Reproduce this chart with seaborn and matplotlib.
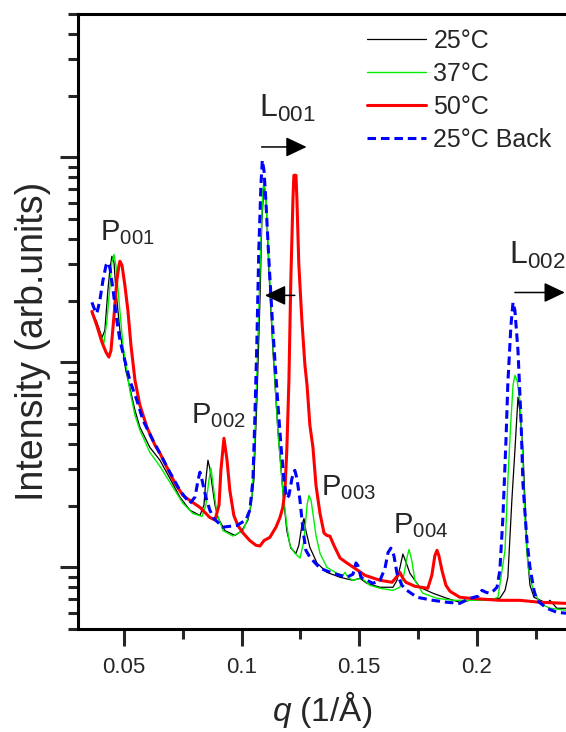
import matplotlib
matplotlib.use("Agg")
import matplotlib.pyplot as plt
import seaborn as sns
import pandas as pd
from matplotlib.ticker import MultipleLocator, FixedLocator, LogLocator, NullFormatter, FuncFormatter

# ---------------- data ----------------
q_25 = [0.0364, 0.0385, 0.0407, 0.0419, 0.0432, 0.0441, 0.0449, 0.0458, 0.0466, 0.0483, 0.0508, 0.0525, 0.0547, 0.0568, 0.0610, 0.0653, 0.0695, 0.0738, 0.0780, 0.0823, 0.0840, 0.0848, 0.0857, 0.0865, 0.0878, 0.0887, 0.0899, 0.0929, 0.0972, 0.1001, 0.1027, 0.1040, 0.1052, 0.1065, 0.1078, 0.1086, 0.1095, 0.1103, 0.1116, 0.1133, 0.1154, 0.1175, 0.1192, 0.1209, 0.1231, 0.1243, 0.1256, 0.1265, 0.1273, 0.1290, 0.1320, 0.1362, 0.1418, 0.1473, 0.1503, 0.1532, 0.1588, 0.1643, 0.1660, 0.1672, 0.1685, 0.1698, 0.1715, 0.1757, 0.1813, 0.1872, 0.1927, 0.1970, 0.2097, 0.2119, 0.2131, 0.2148, 0.2161, 0.2174, 0.2182, 0.2195, 0.2212, 0.2225, 0.2242, 0.2297, 0.2310, 0.2339, 0.2378]
i_25 = [17.7, 15.7, 13.2, 14.3, 22.5, 28.7, 32.9, 30.7, 22.5, 14.3, 9.14, 7.55, 5.83, 4.82, 3.85, 3.33, 2.72, 2.20, 1.90, 1.79, 2.01, 2.66, 3.33, 3.04, 2.37, 2.01, 1.75, 1.51, 1.43, 1.51, 1.70, 2.01, 2.66, 6.53, 20.1, 49.3, 73.0, 65.3, 28.1, 11.4, 4.66, 2.37, 1.51, 1.24, 1.17, 1.28, 1.60, 1.73, 1.51, 1.25, 1.05, 0.945, 0.894, 0.864, 0.884, 0.835, 0.799, 0.799, 0.864, 0.989, 1.16, 1.06, 0.935, 0.799, 0.747, 0.706, 0.675, 0.690, 0.706, 0.772, 0.894, 2.12, 3.72, 6.75, 5.83, 3.72, 1.21, 0.817, 0.714, 0.667, 0.690, 0.631, 0.631]

q_37 = [0.0364, 0.0385, 0.0407, 0.0415, 0.0428, 0.0441, 0.0449, 0.0458, 0.0466, 0.0479, 0.0496, 0.0525, 0.0547, 0.0568, 0.0610, 0.0653, 0.0695, 0.0751, 0.0793, 0.0832, 0.0848, 0.0861, 0.0870, 0.0882, 0.0895, 0.0921, 0.0963, 0.1006, 0.1031, 0.1044, 0.1056, 0.1069, 0.1082, 0.1090, 0.1095, 0.1103, 0.1116, 0.1133, 0.1154, 0.1175, 0.1192, 0.1205, 0.1226, 0.1248, 0.1265, 0.1278, 0.1286, 0.1295, 0.1303, 0.1316, 0.1333, 0.1362, 0.1405, 0.1430, 0.1439, 0.1452, 0.1473, 0.1511, 0.1545, 0.1588, 0.1643, 0.1672, 0.1689, 0.1702, 0.1711, 0.1723, 0.1736, 0.1770, 0.1830, 0.1898, 0.1970, 0.2055, 0.2089, 0.2119, 0.2131, 0.2144, 0.2153, 0.2161, 0.2170, 0.2182, 0.2195, 0.2203, 0.2216, 0.2233, 0.2267, 0.2310, 0.2378]
i_37 = [17.7, 15.1, 13.1, 12.4, 16.0, 23.8, 30.7, 33.6, 29.7, 20.1, 12.1, 7.30, 5.51, 4.66, 3.64, 3.11, 2.60, 2.05, 1.83, 1.77, 2.01, 2.66, 3.04, 2.37, 1.83, 1.51, 1.42, 1.51, 1.79, 2.24, 4.17, 12.8, 39.4, 69.0, 75.5, 65.3, 31.4, 12.1, 4.66, 2.37, 1.60, 1.28, 1.17, 1.11, 1.35, 2.01, 2.24, 2.12, 1.83, 1.43, 1.17, 1.00, 0.935, 0.914, 0.945, 0.894, 0.864, 0.884, 0.817, 0.790, 0.772, 0.799, 0.914, 1.11, 1.22, 1.08, 0.864, 0.747, 0.706, 0.690, 0.690, 0.690, 0.714, 1.21, 2.66, 5.21, 7.72, 8.64, 8.17, 6.53, 3.33, 1.75, 1.02, 0.817, 0.667, 0.631, 0.617]

q_50 = [0.0364, 0.0385, 0.0407, 0.0424, 0.0436, 0.0445, 0.0458, 0.0470, 0.0479, 0.0483, 0.0492, 0.0504, 0.0517, 0.0530, 0.0547, 0.0568, 0.0598, 0.0632, 0.0653, 0.0683, 0.0717, 0.0751, 0.0780, 0.0823, 0.0865, 0.0887, 0.0904, 0.0912, 0.0925, 0.0938, 0.0950, 0.0967, 0.0984, 0.1006, 0.1035, 0.1061, 0.1078, 0.1095, 0.1120, 0.1146, 0.1163, 0.1175, 0.1184, 0.1192, 0.1201, 0.1209, 0.1218, 0.1222, 0.1231, 0.1235, 0.1243, 0.1256, 0.1269, 0.1278, 0.1290, 0.1303, 0.1316, 0.1333, 0.1350, 0.1362, 0.1375, 0.1392, 0.1418, 0.1447, 0.1481, 0.1524, 0.1588, 0.1639, 0.1664, 0.1672, 0.1685, 0.1698, 0.1736, 0.1791, 0.1808, 0.1821, 0.1830, 0.1838, 0.1851, 0.1868, 0.1885, 0.1927, 0.1970, 0.2097, 0.2182, 0.2267, 0.2378]
i_50 = [17.7, 15.1, 12.5, 11.2, 10.6, 11.4, 16.9, 25.1, 29.7, 31.1, 29.7, 23.8, 17.9, 12.1, 8.17, 6.17, 4.82, 3.94, 3.60, 3.07, 2.57, 2.24, 2.12, 1.96, 1.75, 1.70, 2.01, 2.97, 4.26, 3.33, 2.37, 1.79, 1.60, 1.47, 1.35, 1.28, 1.27, 1.35, 1.40, 1.57, 1.75, 1.96, 2.37, 3.72, 8.17, 25.1, 61.7, 81.7, 81.7, 61.7, 30.1, 16.0, 9.66, 7.72, 4.93, 3.85, 2.51, 1.83, 1.47, 1.43, 1.42, 1.28, 1.11, 1.05, 0.989, 0.914, 0.864, 0.845, 0.914, 0.945, 0.884, 0.845, 0.808, 0.790, 0.914, 1.14, 1.21, 1.14, 0.967, 0.817, 0.764, 0.714, 0.706, 0.690, 0.690, 0.675, 0.667]

q_back = [0.0364, 0.0377, 0.0385, 0.0398, 0.0411, 0.0424, 0.0432, 0.0441, 0.0454, 0.0470, 0.0483, 0.0504, 0.0525, 0.0555, 0.0581, 0.0623, 0.0653, 0.0695, 0.0738, 0.0780, 0.0802, 0.0815, 0.0823, 0.0832, 0.0848, 0.0865, 0.0882, 0.0921, 0.0980, 0.1018, 0.1035, 0.1048, 0.1056, 0.1065, 0.1073, 0.1082, 0.1088, 0.1095, 0.1103, 0.1116, 0.1133, 0.1150, 0.1167, 0.1180, 0.1192, 0.1201, 0.1214, 0.1226, 0.1235, 0.1248, 0.1261, 0.1273, 0.1290, 0.1333, 0.1388, 0.1447, 0.1473, 0.1486, 0.1494, 0.1507, 0.1558, 0.1588, 0.1609, 0.1622, 0.1634, 0.1647, 0.1660, 0.1681, 0.1702, 0.1745, 0.1813, 0.1872, 0.1927, 0.1970, 0.2004, 0.2021, 0.2038, 0.2055, 0.2072, 0.2085, 0.2097, 0.2110, 0.2123, 0.2131, 0.2144, 0.2153, 0.2161, 0.2174, 0.2187, 0.2195, 0.2212, 0.2225, 0.2242, 0.2254, 0.2297, 0.2339, 0.2378]
i_back = [19.6, 17.9, 17.3, 20.1, 25.1, 29.7, 30.7, 28.7, 22.5, 16.0, 12.8, 10.2, 8.17, 6.53, 5.21, 4.17, 3.60, 2.91, 2.37, 2.05, 2.20, 2.66, 2.91, 2.66, 2.20, 1.90, 1.73, 1.57, 1.60, 1.70, 1.90, 2.66, 5.21, 12.8, 35.2, 73.0, 96.7, 86.4, 61.7, 31.4, 14.3, 7.30, 3.94, 2.66, 2.17, 2.24, 2.72, 2.97, 2.72, 2.12, 1.51, 1.21, 1.12, 0.989, 0.935, 0.894, 0.925, 1.05, 1.02, 0.894, 0.835, 0.864, 0.989, 1.18, 1.24, 1.14, 0.935, 0.817, 0.772, 0.714, 0.690, 0.675, 0.667, 0.706, 0.722, 0.772, 0.755, 0.747, 0.772, 0.799, 0.967, 1.75, 4.17, 7.90, 15.1, 19.6, 17.9, 11.4, 5.21, 2.57, 1.35, 1.00, 0.772, 0.690, 0.631, 0.603, 0.597]

series_labels = ["25°C", "37°C", "50°C", "25°C Back"]
x_ticks = [0.05, 0.1, 0.15, 0.2]

# ---------------- style ----------------
sns.set_style("ticks")
plt.rcParams["font.family"] = ["Liberation Sans", "DejaVu Sans"]
plt.rcParams["mathtext.fontset"] = "custom"
plt.rcParams["mathtext.rm"] = "Liberation Sans"
plt.rcParams["mathtext.it"] = "Liberation Sans:italic"
plt.rcParams["mathtext.bf"] = "Liberation Sans:bold"

fig = plt.figure(figsize=(5.66, 7.32), dpi=100)
ax = fig.add_axes([78 / 566, 103 / 732, 1 - 78 / 566, 615 / 732])

styles = [
    dict(color="#000000", lw=0.9, ls="-"),
    dict(color="#00ee00", lw=1.0, ls="-"),
    dict(color="#ff0000", lw=2.2, ls="-"),
    dict(color="#0000ff", lw=2.2, ls=(0, (2.8, 1.6))),
]
data = [(q_25, i_25), (q_37, i_37), (q_50, i_50), (q_back, i_back)]
for (qq, ii), lab, st in zip(data, series_labels, styles):
    df = pd.DataFrame({"q": qq, "I": ii})
    sns.lineplot(data=df, x="q", y="I", ax=ax, estimator=None, sort=False,
                 color=st["color"], linewidth=st["lw"], linestyle=st["ls"], label=lab)

ax.set_yscale("log")
ax.set_xlim(0.0305, 0.2378)
ax.set_ylim(0.5, 500)

ax.xaxis.set_major_locator(FixedLocator(x_ticks))
ax.xaxis.set_major_formatter(FuncFormatter(lambda v, p: f"{v:g}"))
ax.xaxis.set_minor_locator(MultipleLocator(0.025))
ax.yaxis.set_major_locator(LogLocator(base=10, numticks=10))
ax.yaxis.set_minor_locator(LogLocator(base=10, subs=(2, 3, 4, 5, 6, 7, 8, 9), numticks=20))
ax.yaxis.set_major_formatter(NullFormatter())
ax.yaxis.set_minor_formatter(NullFormatter())

for s in ["left", "bottom", "top"]:
    ax.spines[s].set_linewidth(2.2)
    ax.spines[s].set_color("black")
ax.spines["right"].set_visible(False)

ax.tick_params(axis="x", which="major", direction="out", length=12, width=2.2, labelsize=16, pad=8, top=False)
ax.tick_params(axis="x", which="minor", direction="out", length=7, width=2.2, top=False)
ax.tick_params(axis="y", which="major", direction="out", length=13, width=2.2, right=False)
ax.tick_params(axis="y", which="minor", direction="out", length=7.5, width=2.2, right=False)

ax.set_xlabel(r"$\mathit{q}$ (1/Å)", fontsize=24, labelpad=8)
ax.set_ylabel("Intensity (arb.units)", fontsize=27)
ax.yaxis.set_label_coords(-0.055, 0.468)

leg = ax.legend(loc="upper left", bbox_to_anchor=(367 / 566, 1 - 29 / 732), bbox_transform=fig.transFigure,
                frameon=False, fontsize=18, handlelength=2.35, handletextpad=0.3,
                labelspacing=0.36, borderpad=0, borderaxespad=0)

# annotations
fs = 21
ax.text(0.0400, 39.4, r"P$_{\mathrm{001}}$", fontsize=fs)
ax.text(0.0785, 5.04, r"P$_{\mathrm{002}}$", fontsize=fs)
ax.text(0.1338, 2.24, r"P$_{\mathrm{003}}$", fontsize=fs)
ax.text(0.1642, 1.47, r"P$_{\mathrm{004}}$", fontsize=fs)
ax.text(0.1072, 157, r"L$_{\mathrm{001}}$", fontsize=fs + 2)
ax.text(0.2135, 30.3, r"L$_{\mathrm{002}}$", fontsize=fs + 2)

arw = dict(arrowstyle="-|>,head_length=0.8,head_width=0.38", color="black", lw=1.1,
           mutation_scale=16, shrinkA=0, shrinkB=0)
ax.annotate("", xy=(0.1276, 112.3), xytext=(0.1085, 112.3), arrowprops=arw)
ax.annotate("", xy=(0.1099, 21.2), xytext=(0.1226, 21.2), arrowprops=arw)
ax.annotate("", xy=(0.2373, 21.9), xytext=(0.2161, 21.9), arrowprops=arw, annotation_clip=False)

fig.savefig("out.png", dpi=100)
